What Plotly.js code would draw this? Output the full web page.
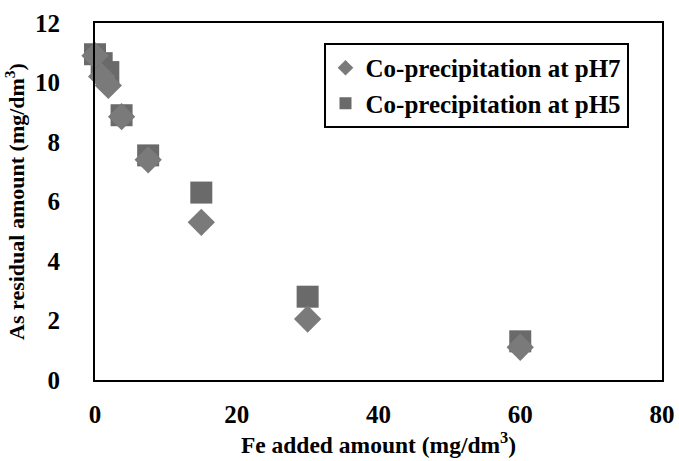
<!DOCTYPE html>
<html>
<head>
<meta charset="utf-8">
<script src="https://cdn.plot.ly/plotly-3.0.1.min.js"></script>
<style>html,body{margin:0;padding:0;background:#fff;}#chart{width:679px;height:461px;}</style>
</head>
<body>
<div id="chart"></div>
<script>
// Fe added amount (mg/dm3)
const feAdded = [0, 0.94, 1.88, 3.75, 7.5, 15, 30, 60];
// As residual amount (mg/dm3)
const asPH7 = [10.9, 10.2, 9.9, 8.85, 7.4, 5.3, 2.05, 1.1];
const asPH5 = [10.95, 10.65, 10.35, 8.9, 7.55, 6.3, 2.8, 1.3];
const seriesNames = ["Co-precipitation at pH7", "Co-precipitation at pH5"];
const xTicks = [0, 20, 40, 60, 80];
const yTicks = [0, 2, 4, 6, 8, 10, 12];

const fontFam = '"Liberation Serif", "Times New Roman", serif';
const b = s => '<b>' + s + '</b>';

const traces = [
  {
    x: feAdded, y: asPH5, name: b(seriesNames[1]), type: 'scatter', mode: 'markers',
    marker: {symbol: 'square', size: 22, color: '#6a6a6a'},
    cliponaxis: false, legendgroup: 'b', legendrank: 2
  },
  {
    x: feAdded, y: asPH7, name: b(seriesNames[0]), type: 'scatter', mode: 'markers',
    marker: {symbol: 'diamond', size: 21, color: '#7a7a7a'},
    cliponaxis: false, legendgroup: 'a', legendrank: 1
  }
];

const layout = {
  width: 679, height: 461,
  margin: {l: 94.5, r: 17, t: 23, b: 81},
  paper_bgcolor: '#fff', plot_bgcolor: '#fff',
  font: {family: fontFam, color: '#000', size: 20},
  showlegend: true,
  legend: {
    x: 0.403, y: 0.944, xanchor: 'left', yanchor: 'top',
    bgcolor: '#fff', bordercolor: '#000', borderwidth: 2,
    font: {family: fontFam, size: 25, color: '#000'},
    itemsizing: 'constant', tracegroupgap: 0, traceorder: 'normal'
  },
  xaxis: {
    range: [0, 80], tickvals: xTicks, ticktext: xTicks.map(v => b(String(v))),
    showgrid: false, zeroline: false, showline: true, mirror: true,
    linecolor: '#000', linewidth: 2, ticks: '', ticklabelstandoff: 11,
    tickfont: {family: fontFam, size: 25},
    title: {text: b('Fe added amount (mg/dm<sup>3</sup>)'), font: {family: fontFam, size: 23.5}, standoff: 6}
  },
  yaxis: {
    range: [0, 12], tickvals: yTicks, ticktext: yTicks.map(v => b(String(v))),
    showgrid: false, zeroline: false, showline: true, mirror: true,
    linecolor: '#000', linewidth: 2, ticks: '', ticklabelstandoff: 28,
    tickfont: {family: fontFam, size: 25},
    title: {text: b('As residual amount (mg/dm<sup>3</sup>)'), font: {family: fontFam, size: 22}, standoff: 4}
  }
};

Plotly.newPlot('chart', traces, layout, {displayModeBar: false, staticPlot: true});
</script>
</body>
</html>
